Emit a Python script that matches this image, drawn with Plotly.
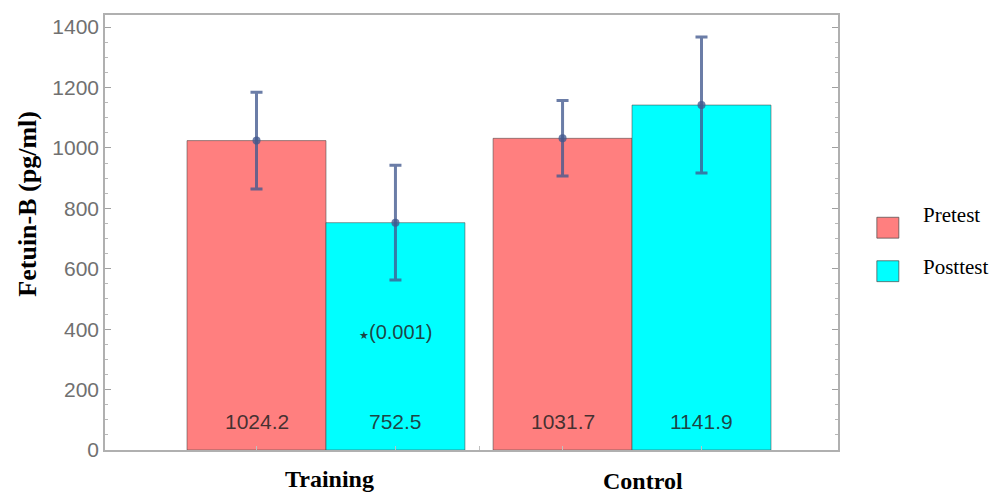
import plotly.graph_objects as go

groups = ["Training", "Control"]
series = ["Pretest", "Posttest"]
pretest = [1024.2, 1031.7]
posttest = [752.5, 1141.9]
pretest_err = [160, 125]
posttest_err = [190, 225]
sig_text = ["(0.001)", ""]
y_ticks = [0, 200, 400, 600, 800, 1000, 1200, 1400]

colors = {"Pretest": "#FF7F7F", "Posttest": "#00FFFF"}
err_color = "rgba(65,88,142,0.78)"
bar_w = 0.454
gx = list(range(len(groups)))

fig = go.Figure()
for name, vals, errs, off in [("Pretest", pretest, pretest_err, -bar_w),
                               ("Posttest", posttest, posttest_err, 0.0)]:
    fig.add_trace(go.Bar(
        x=gx, y=vals, name=name, width=bar_w, offset=off,
        marker=dict(color=colors[name], line=dict(color="rgba(70,70,70,0.55)", width=1)),
        error_y=dict(type="data", array=errs, visible=True, color=err_color,
                     thickness=3, width=6),
        showlegend=False,
    ))
    centers = [g + off + bar_w / 2 for g in gx]
    fig.add_trace(go.Scatter(
        x=centers, y=vals, mode="markers",
        marker=dict(color=err_color, size=8), showlegend=False, hoverinfo="skip"))
    for c, v in zip(centers, vals):
        fig.add_annotation(x=c, y=95, text=f"{v}", showarrow=False,
                           font=dict(family="Liberation Sans, Arial", size=21,
                                     color="rgba(35,35,35,0.85)"))

# significance label on posttest bars
for g, s in zip(gx, sig_text):
    if s:
        fig.add_annotation(x=g + bar_w / 2, y=390,
                           text="<span style='font-size:11px'>★</span>" + s,
                           showarrow=False,
                           font=dict(family="Liberation Sans, Arial", size=20,
                                     color="rgba(35,35,35,0.85)"))

# group labels
for g, name, xs, ys in zip(gx, groups, [4, 11], [-29, -31]):
    fig.add_annotation(x=g, y=0, yref="y", text=f"<b>{name}</b>", showarrow=False,
                       xshift=xs, yshift=ys, yanchor="middle",
                       font=dict(family="Liberation Serif, Times New Roman", size=24,
                                 color="black"))

# y-axis title
fig.add_annotation(xref="paper", yref="paper", x=-0.106, y=0.567,
                   xanchor="center", yanchor="middle",
                   text="<b>Fetuin-B (pg/ml)</b>", textangle=-90, showarrow=False,
                   font=dict(family="Liberation Serif, Times New Roman", size=26,
                             color="black"))

# manual legend
leg_y = [(0.487, 0.535, 0.541), (0.387, 0.435, 0.420)]
for name, (y0, y1, ty) in zip(series, leg_y):
    fig.add_shape(type="rect", xref="paper", yref="paper",
                  x0=1.053, x1=1.083, y0=y0, y1=y1,
                  fillcolor=colors[name], line=dict(color="rgba(70,70,70,0.7)", width=1))
    fig.add_annotation(xref="paper", yref="paper", x=1.113, y=ty, text=name,
                       xanchor="left", yanchor="middle", showarrow=False,
                       font=dict(family="Liberation Serif, Times New Roman", size=21,
                                 color="black"))

minor_x = [g + d for g in gx for d in (-bar_w / 2, bar_w / 2)] + [0.5]
fig.update_layout(
    width=990, height=485, autosize=False,
    margin=dict(l=97, r=160, t=5, b=43),
    plot_bgcolor="white", paper_bgcolor="white",
    showlegend=False,
    xaxis=dict(range=[-0.722, 1.673], tickvals=minor_x, ticktext=[""] * len(minor_x),
               ticks="inside", ticklen=4, tickcolor="#c0c0c0",
               showgrid=False, zeroline=False, showline=True, linecolor="#b0b0b0",
               linewidth=1.5, mirror=True),
    yaxis=dict(range=[0, 1440], tickvals=y_ticks, ticks="inside", ticklen=6,
               tickcolor="#a0a0a0", showgrid=False, zeroline=False, showline=True,
               linecolor="#b0b0b0", linewidth=1.5, mirror="ticks",
               tickfont=dict(family="Liberation Sans, Arial", size=21, color="#707070"),
               minor=dict(dtick=50, ticks="inside", ticklen=3, tickcolor="#b8b8b8")),
)

fig.write_html("out.html")
